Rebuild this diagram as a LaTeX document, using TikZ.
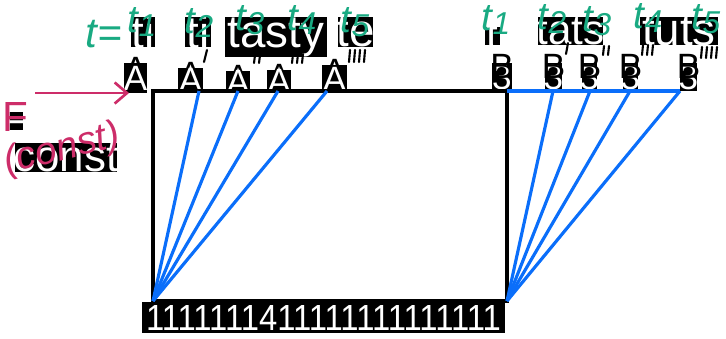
\documentclass[tikz,border=0pt]{standalone}
\usepackage{fontspec}
\setmainfont{Liberation Sans}
\usetikzlibrary{arrows.meta}

\definecolor{inkgreen}{RGB}{25,170,130}
\definecolor{inkpink}{RGB}{205,45,105}
\definecolor{fanblue}{RGB}{10,110,250}
\newcommand{\fs}[1]{\fontsize{#1}{#1}\selectfont}
\newcommand{\tk}[1]{t\raisebox{-2pt}{\fs{18}#1}}

\begin{document}
\begin{tikzpicture}[x=0.02cm, y=-0.02cm,
    wt/.style={text=white, inner sep=0pt},
    hand/.style={text=inkgreen, font=\fs{22}\itshape},
    fan/.style={draw=fanblue, line width=1.8pt},
    tick/.style={draw=black, line width=1.2pt, line cap=round}]
    \useasboundingbox (0,0) rectangle (726,338);

    % words on top
    \fill (131,17) rectangle (155,47) node[midway, wt, font=\fs{26}] (w1) {ti};
    \fill (185,17) rectangle (211,47) node[midway, wt, font=\fs{26}] (w2) {ti};
    \fill (225,17) rectangle (327,57) node[midway, wt, font=\fs{26}] (w3) {tasty};
    \fill (338,17) rectangle (373,47) node[midway, wt, font=\fs{26}] (w4) {te};
    \fill (485,27) rectangle (500,45) node[midway, wt, font=\fs{24}] (v1) {t};
    \fill (538,17) rectangle (603,45) node[midway, wt, font=\fs{24}] (v2) {tats};
    \fill (640,17) rectangle (718,45) node[midway, wt, font=\fs{26}] (v3) {tuts};

    % primes
    \draw[tick] (207,50) -- (204,62);
    \foreach \x in {255,260} \draw[tick] (\x,55) -- (\x-1,63);
    \foreach \x in {293,298,303} \draw[tick] (\x,54) -- (\x-1,63);
    \foreach \x in {350,355,360,365} \draw[tick] (\x,50) -- (\x-1,62);
    \draw[tick] (568,43) -- (566,54);
    \foreach \x in {604,609} \draw[tick] (\x,46) -- (\x-1,55);
    \foreach \x in {643,648,653} \draw[tick] (\x,45) -- (\x-1,55);
    \foreach \x in {702,707,712,717} \draw[tick] (\x,47) -- (\x-1,58);

    % A boxes
    \foreach \xa/\xb/\yb [count=\i] in {124/147/63, 178/203/68, 226/250/71, 267/291/70, 322/347/65} {
      \node[text=black, inner sep=0pt, font=\fs{20}] at ({(\xa+\xb)/2},{\yb+6}) {A};
      \fill (\xa,\yb) rectangle (\xb,93) node[midway, wt, font=\fs{20}] (a\i) {A};
    }
    % B boxes
    \foreach \xa/\xb [count=\i] in {492/512, 545/562, 582/597, 623/638, 680/697} {
      \fill (\xa,63) rectangle (\xb,91) node[midway, wt, font=\fs{20}] (b\i) {3};
      \node[text=black, inner sep=0pt, font=\fs{20}] at ({(\xa+\xb)/2},66) {B};
    }

    % box
    \coordinate (bl) at (153,301);
    \coordinate (br) at (507,301);
    \draw[line width=2pt] (153,91) rectangle (507,301);
    \draw[fan] (507,91) -- (680,91);
    \foreach \x in {199,238,278,327} \draw[fan] (bl) -- (\x,91);
    \foreach \x in {553,590,630,680} \draw[fan] (br) -- (\x,91);

    % bottom strip
    \fill (142,302) rectangle (505,333) node[midway, wt, font=\fs{17}] (ones) {\resizebox{7.1cm}{0.5cm}{1111111411111111111111}};

    % left labels
    \fill (7,112) rectangle (23,130) node[midway, wt, font=\fs{22}] (f) {F};
    \fill (15,143) rectangle (117,172) node[midway, wt, font=\fs{25}] (c) {const};
    \node[text=inkpink, font=\fs{24}] (pf) at (15,117) {F};
    \node[text=inkpink, font=\fs{22}\itshape, rotate=14] (pc) at (62,150) {(const)};
    \coordinate (s) at (35,93);
    \coordinate (e) at (129,93);
    \draw[draw=inkpink, line width=1.5pt, -{Straight Barb[length=7pt, width=12pt]}] (s) -- (e);

    % hand labels
    \node[hand, font=\fs{24}\itshape] (t0) at (104,34) {t=};
    \foreach \x/\y [count=\i] in {142/22, 199/23, 250/20, 302/20, 355/22}
      \node[hand] (l\i) at (\x,\y) {\tk{\i}};
    \foreach \x/\y [count=\i] in {496/20, 552/19, 597/21, 648/18, 706/19}
      \node[hand] (r\i) at (\x,\y) {\tk{\i}};
\end{tikzpicture}
\end{document}
